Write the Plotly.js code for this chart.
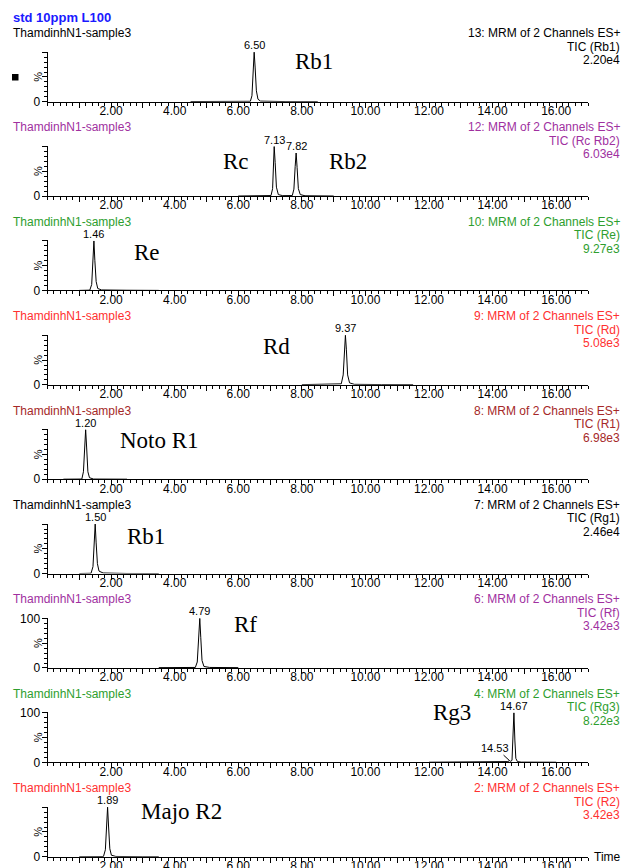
<!DOCTYPE html>
<html><head><meta charset="utf-8">
<script src="https://cdn.plot.ly/plotly-3.0.1.min.js"></script>
<style>html,body{margin:0;padding:0;background:#fff;overflow:hidden}</style>
</head><body><div id="chart" style="width:627px;height:868px"></div>
<script>
// ---------- data ----------
const chartTitle = "std 10ppm L100";
const sampleName = "ThamdinhN1-sample3";
const functionLabels = ["13: MRM of 2 Channels ES+", "12: MRM of 2 Channels ES+", "10: MRM of 2 Channels ES+",
  "9: MRM of 2 Channels ES+", "8: MRM of 2 Channels ES+", "7: MRM of 2 Channels ES+",
  "6: MRM of 2 Channels ES+", "4: MRM of 2 Channels ES+", "2: MRM of 2 Channels ES+"];
const ticLabels = ["TIC (Rb1)", "TIC (Rc Rb2)", "TIC (Re)", "TIC (Rd)", "TIC (R1)", "TIC (Rg1)", "TIC (Rf)", "TIC (Rg3)", "TIC (R2)"];
const maxIntensity = ["2.20e4", "6.03e4", "9.27e3", "5.08e3", "6.98e3", "2.46e4", "3.42e3", "8.22e3", "3.42e3"];
const compoundNames = [["Rb1"], ["Rc", "Rb2"], ["Re"], ["Rd"], ["Noto R1"], ["Rb1"], ["Rf"], ["Rg3"], ["Majo R2"]];
const peakTimes = [[6.50], [7.13, 7.82], [1.46], [9.37], [1.20], [1.50], [4.79], [14.67], [1.89]];
const peakHeights = [[100], [100, 87], [100], [100], [100], [100], [100], [100], [100]];
const minorPeakTime = 14.53, minorPeakHeight = 3.5;
const xTickValues = [2, 4, 6, 8, 10, 12, 14, 16];

const time1 = [4.50, 6.00, 6.38, 6.43, 6.47, 6.50, 6.53, 6.57, 6.62, 6.70, 7.50, 8.50];
const int1  = [0.3, 0.3, 0.8, 12, 62, 100, 70, 22, 5, 1.2, 0.2, 0.1];
const time2 = [6.00, 6.90, 7.03, 7.08, 7.11, 7.13, 7.16, 7.20, 7.26, 7.40, 7.70, 7.75, 7.79, 7.82, 7.85, 7.89, 7.95, 8.10, 9.00];
const int2  = [0.1, 0.2, 1, 15, 70, 100, 68, 18, 3, 0.8, 1, 14, 60, 87, 58, 15, 3, 0.6, 0.1];
const time3 = [1.00, 1.33, 1.39, 1.43, 1.46, 1.49, 1.53, 1.58, 1.70, 2.50, 3.50];
const int3  = [0.1, 0.6, 12, 65, 100, 60, 18, 4, 1, 0.4, 0.1];
const time4 = [8.00, 9.10, 9.24, 9.30, 9.34, 9.37, 9.40, 9.44, 9.50, 9.65, 10.50, 11.50];
const int4  = [0.4, 0.6, 2, 20, 75, 100, 72, 20, 4, 1, 0.5, 0.4];
const time5 = [0.50, 1.08, 1.13, 1.17, 1.20, 1.23, 1.27, 1.32, 1.45, 2.50];
const int5  = [0.0, 0.3, 15, 70, 100, 65, 15, 3, 0.3, 0.0];
const time6 = [1.00, 1.37, 1.43, 1.47, 1.50, 1.53, 1.57, 1.62, 1.75, 2.50, 3.50];
const int6  = [0.1, 0.6, 14, 68, 100, 62, 20, 5, 1.2, 0.2, 0.1];
const time7 = [3.50, 4.65, 4.71, 4.75, 4.79, 4.82, 4.86, 4.92, 5.10, 6.00];
const int7  = [0.6, 1, 12, 65, 100, 62, 15, 3, 1, 0.6];
const time8 = [12.00, 14.40, 14.48, 14.53, 14.57, 14.61, 14.64, 14.67, 14.70, 14.73, 14.78, 14.90, 16.00];
const int8  = [0.2, 0.4, 1.5, 3.5, 2, 4, 40, 100, 45, 8, 1.5, 0.4, 0.2];
const time9 = [1.00, 1.76, 1.82, 1.86, 1.89, 1.92, 1.96, 2.01, 2.15, 3.00, 3.50];
const int9  = [0.0, 0.3, 14, 70, 100, 62, 16, 3, 0.5, 0.0, 0.0];

const times = [time1, time2, time3, time4, time5, time6, time7, time8, time9];
const intensities = [int1, int2, int3, int4, int5, int6, int7, int8, int9];

// ---------- styling / layout ----------
const W = 627, H = 868;
const headerColors = ["#000000", "#A0309F", "#2E9E2E", "#FF3030", "#A52828", "#000000", "#A0309F", "#2E9E2E", "#FF3030"];
const labelPos = [[[314, 62]], [[236, 161], [348, 161]], [[147, 253]], [[276, 347]], [[159, 440]], [[146, 536]], [[245, 624]], [[452, 712]], [[181, 811]]];
const px = v => v / W, py = v => 1 - v / H;
const step = 94.375, bottom0 = 101.7, plotH = 50;

const traces = [], annotations = [], layout = {
  width: W, height: H, margin: {l: 0, r: 0, t: 0, b: 0},
  paper_bgcolor: "#fff", plot_bgcolor: "#fff", showlegend: false,
  font: {family: "Liberation Sans, Arial, sans-serif", size: 12, color: "#000"},
  shapes: [{type: "rect", xref: "paper", yref: "paper", x0: px(12), x1: px(18.5), y0: py(80.5), y1: py(74), fillcolor: "#000", line: {width: 0}}]
};

annotations.push({xref: "paper", yref: "paper", x: px(11), y: py(18), xanchor: "left", yanchor: "middle", showarrow: false,
  text: "<b>" + chartTitle + "</b>", font: {size: 13, color: "#1A1AFF"}});

for (let i = 0; i < 9; i++) {
  const n = i + 1, b = bottom0 + i * step, t = b - plotH, hy = 33 + i * step;
  const xa = "xaxis" + (n === 1 ? "" : n), ya = "yaxis" + (n === 1 ? "" : n);
  const xr = "x" + (n === 1 ? "" : n), yr = "y" + (n === 1 ? "" : n);
  traces.push({x: times[i], y: intensities[i], xaxis: xr, yaxis: yr, type: "scatter", mode: "lines",
    line: {color: "#000", width: 1}, hoverinfo: "skip"});
  layout[xa] = {domain: [px(47.5), px(588)], anchor: yr, range: [0, 17], showline: true, linecolor: "#000", linewidth: 1,
    zeroline: false, showgrid: false, ticks: "outside", ticklen: 5, tickcolor: "#000", tickwidth: 1,
    tickmode: "array", tickvals: [1, 3, 5, 7, 9, 11, 13, 15].concat(xTickValues),
    ticktext: ["", "", "", "", "", "", "", ""].concat(xTickValues.map(v => v.toFixed(2))),
    tickfont: {size: 12, color: "#000"}, fixedrange: true, ticklabelstandoff: -7,
    minor: {tick0: 0, dtick: 0.2, ticks: "outside", ticklen: 3, tickcolor: "#000", tickwidth: 1, showgrid: false}};
  const show100 = (i === 6 || i === 7);
  layout[ya] = {domain: [py(b), py(t)], anchor: xr, range: [0, 101], showline: true, linecolor: "#000", linewidth: 1,
    zeroline: false, showgrid: false, ticks: "outside", ticklen: 5, tickcolor: "#000", tickwidth: 1,
    tickmode: "array", tickvals: [0, 50, 100], ticktext: ["0", "", show100 ? "100" : ""],
    tickfont: {size: 12, color: "#000"}, fixedrange: true, ticklabelstandoff: -1,
    minor: {tick0: 0, dtick: 10, ticks: "outside", ticklen: 3, tickcolor: "#000", tickwidth: 1, showgrid: false}};

  // headers
  annotations.push({xref: "paper", yref: "paper", x: px(11), y: py(hy), xanchor: "left", yanchor: "middle", showarrow: false,
    text: sampleName, font: {size: 12, color: headerColors[i]}});
  [functionLabels[i], ticLabels[i], maxIntensity[i]].forEach((s, k) => {
    annotations.push({xref: "paper", yref: "paper", x: px(622), y: py(hy + k * 13.5), xanchor: "right", yanchor: "middle",
      showarrow: false, text: s, font: {size: 12, color: headerColors[i]}});
  });
  // % label
  annotations.push({xref: "paper", yref: "paper", x: px(38), y: py(b - 25), xanchor: "center", yanchor: "middle",
    showarrow: false, text: "%", textangle: -90, font: {size: 11, color: "#000"}});
  // peak labels
  peakTimes[i].forEach((pt, k) => {
    annotations.push({xref: xr, yref: yr, x: pt, y: peakHeights[i][k], xanchor: "center", yanchor: "bottom", yshift: -1,
      showarrow: false, text: pt.toFixed(2), font: {size: 11, color: "#000"}});
  });
  // compound labels
  compoundNames[i].forEach((nm, k) => {
    annotations.push({xref: "paper", yref: "paper", x: px(labelPos[i][k][0]), y: py(labelPos[i][k][1]), xanchor: "center",
      yanchor: "middle", showarrow: false, text: nm, font: {family: "Liberation Serif, Times New Roman, serif", size: 23, color: "#000"}});
  });
  if (i === 7) {
    annotations.push({xref: xr, yref: yr, x: minorPeakTime, y: minorPeakHeight, ax: -14, ay: -13, showarrow: true,
      arrowhead: 0, arrowwidth: 1, arrowcolor: "#000", text: minorPeakTime.toFixed(2), font: {size: 11, color: "#000"}, standoff: 0});
  }
  if (i === 8) {
    annotations.push({xref: "paper", yref: "paper", x: px(592), y: py(b), xanchor: "left", yanchor: "middle", showarrow: false,
      text: "Time", font: {size: 12, color: "#000"}});
  }
}
layout.annotations = annotations;
Plotly.newPlot("chart", traces, layout, {displayModeBar: false, staticPlot: true});
</script></body></html>
